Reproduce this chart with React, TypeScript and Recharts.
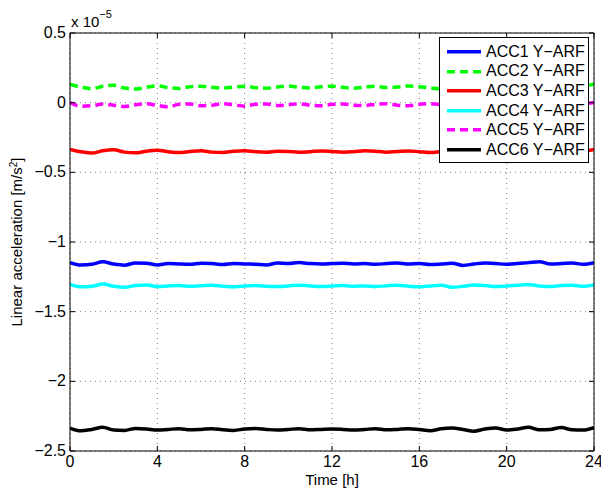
import React from 'react';
import { LineChart, Line, XAxis, YAxis, CartesianGrid, Legend } from 'recharts';

const hours = [
  0, 0.5, 1, 1.5, 2, 2.5, 3, 3.5, 4, 4.5, 5, 5.5, 6, 6.5, 7, 7.5, 8, 8.5, 9, 9.5,
  10, 10.5, 11, 11.5, 12, 12.5, 13, 13.5, 14, 14.5, 15, 15.5, 16, 16.5, 17, 17.5,
  18, 18.5, 19, 19.5, 20, 20.5, 21, 21.5, 22, 22.5, 23, 23.5, 24,
];

// values in units of 1e-5 m/s^2
const acc1 = [
  -1.148, -1.165, -1.16, -1.142, -1.158, -1.166, -1.15,
  -1.152, -1.165, -1.155, -1.158, -1.16, -1.152, -1.155,
  -1.162, -1.155, -1.158, -1.16, -1.165, -1.15, -1.155,
  -1.148, -1.155, -1.158, -1.155, -1.152, -1.158, -1.155,
  -1.16, -1.155, -1.15, -1.158, -1.155, -1.162, -1.158,
  -1.152, -1.168, -1.158, -1.15, -1.155, -1.16, -1.155,
  -1.148, -1.142, -1.158, -1.155, -1.15, -1.16, -1.148,
];
const acc2 = [
  0.13, 0.112, 0.1, 0.118, 0.125, 0.105, 0.098,
  0.11, 0.12, 0.108, 0.102, 0.115, 0.118, 0.11,
  0.105, 0.112, 0.118, 0.108, 0.104, 0.112, 0.12,
  0.11, 0.106, 0.114, 0.118, 0.11, 0.104, 0.112,
  0.118, 0.108, 0.112, 0.12, 0.115, 0.106, 0.1,
  0.11, 0.118, 0.108, 0.102, 0.112, 0.12, 0.11,
  0.104, 0.112, 0.118, 0.108, 0.104, 0.118, 0.132,
];
const acc3 = [
  -0.335, -0.352, -0.362, -0.345, -0.338, -0.355, -0.36,
  -0.348, -0.342, -0.352, -0.358, -0.35, -0.345, -0.355,
  -0.358, -0.348, -0.345, -0.352, -0.355, -0.348, -0.35,
  -0.355, -0.352, -0.346, -0.35, -0.356, -0.352, -0.345,
  -0.348, -0.355, -0.35, -0.346, -0.352, -0.358, -0.35,
  -0.345, -0.352, -0.36, -0.35, -0.344, -0.35, -0.356,
  -0.348, -0.346, -0.355, -0.36, -0.352, -0.348, -0.335,
];
const acc4 = [
  -1.305, -1.322, -1.318, -1.302, -1.318, -1.325, -1.312,
  -1.308, -1.32, -1.315, -1.312, -1.318, -1.314, -1.31,
  -1.318, -1.322, -1.315, -1.312, -1.318, -1.32, -1.315,
  -1.31, -1.315, -1.32, -1.316, -1.312, -1.318, -1.315,
  -1.32, -1.314, -1.31, -1.318, -1.322, -1.315, -1.31,
  -1.325, -1.318, -1.308, -1.312, -1.32, -1.316, -1.31,
  -1.305, -1.315, -1.32, -1.312, -1.31, -1.318, -1.308,
];
const acc5 = [
  0.0, -0.025, -0.022, -0.01, -0.018, -0.028, -0.015,
  -0.008, -0.02, -0.03, -0.012, -0.01, -0.022, -0.018,
  -0.008, -0.015, -0.025, -0.012, -0.01, -0.02, -0.015,
  -0.008, -0.018, -0.022, -0.012, -0.01, -0.018, -0.02,
  -0.012, -0.008, -0.018, -0.022, -0.012, -0.008, -0.015,
  -0.022, -0.01, -0.005, -0.018, -0.02, -0.01, -0.008,
  -0.015, -0.02, -0.012, -0.01, -0.02, -0.012, 0.002,
];
const acc6 = [
  -2.335, -2.355, -2.345, -2.33, -2.35, -2.352, -2.338,
  -2.342, -2.35, -2.345, -2.34, -2.348, -2.345, -2.34,
  -2.348, -2.352, -2.342, -2.338, -2.345, -2.35, -2.345,
  -2.34, -2.348, -2.345, -2.342, -2.345, -2.35, -2.345,
  -2.34, -2.348, -2.345, -2.34, -2.346, -2.355, -2.34,
  -2.335, -2.345, -2.358, -2.342, -2.335, -2.35, -2.342,
  -2.33, -2.348, -2.345, -2.332, -2.348, -2.35, -2.332,
];

const xTicks = [0, 4, 8, 12, 16, 20, 24];
const yTicks = [-2.5, -2, -1.5, -1, -0.5, 0, 0.5];

const series = [
  { key: 'acc1', name: 'ACC1 Y\u2212ARF', color: '#0000ff', dash: undefined, values: acc1 },
  { key: 'acc2', name: 'ACC2 Y\u2212ARF', color: '#00ff00', dash: '8 5', values: acc2 },
  { key: 'acc3', name: 'ACC3 Y\u2212ARF', color: '#ff0000', dash: undefined, values: acc3 },
  { key: 'acc4', name: 'ACC4 Y\u2212ARF', color: '#00ffff', dash: undefined, values: acc4 },
  { key: 'acc5', name: 'ACC5 Y\u2212ARF', color: '#ff00ff', dash: '8 5', values: acc5 },
  { key: 'acc6', name: 'ACC6 Y\u2212ARF', color: '#000000', dash: undefined, values: acc6 },
];

const data = hours.map((t, i) => {
  const row: any = { t };
  series.forEach((s) => (row[s.key] = s.values[i]));
  return row;
});

const FONT = '"Liberation Sans", Arial, Helvetica, sans-serif';
const FS = 16;
const TICK = 5;

const fmt = (v: number) => String(v).replace('-', '\u2212');

const BottomTick = (props: any) => {
  const { x, y, payload } = props;
  return (
    <g>
      <line x1={x} x2={x} y1={y} y2={y - TICK} stroke="#000" />
      <text x={x} y={y + 16} textAnchor="middle" fontSize={FS} fontFamily={FONT} fill="#000">
        {payload.value}
      </text>
    </g>
  );
};

const TopTick = (props: any) => {
  const { x, y } = props;
  return <line x1={x} x2={x} y1={y} y2={y + TICK} stroke="#000" />;
};

const LeftTick = (props: any) => {
  const { x, y, payload } = props;
  return (
    <g>
      <line x1={x} x2={x + TICK} y1={y} y2={y} stroke="#000" />
      <text x={x - 4} y={y + 5} textAnchor="end" fontSize={FS} fontFamily={FONT} fill="#000">
        {fmt(payload.value)}
      </text>
    </g>
  );
};

const RightTick = (props: any) => {
  const { x, y } = props;
  return <line x1={x} x2={x - TICK} y1={y} y2={y} stroke="#000" />;
};

const YTitle = (props: any) => {
  const vb = props.viewBox;
  const cx = 22;
  const cy = vb.y + vb.height / 2;
  return (
    <text
      x={cx}
      y={cy}
      transform={`rotate(-90 ${cx} ${cy})`}
      textAnchor="middle"
      fontSize={15}
      fontFamily={FONT}
      fill="#000"
    >
      Linear acceleration [m/s
      <tspan baselineShift="super" fontSize={10}>2</tspan>
      ]
    </text>
  );
};

const XTitle = (props: any) => {
  const vb = props.viewBox;
  return (
    <text
      x={vb.x + vb.width / 2}
      y={vb.y + 34}
      textAnchor="middle"
      fontSize={15}
      fontFamily={FONT}
      fill="#000"
    >
      Time [h]
    </text>
  );
};

const ScaleNote = () => (
  <text x={71} y={27} fontSize={15} fontFamily={FONT} fill="#000">
    x 10
    <tspan fontSize={11} dy={-9}>{'\u22125'}</tspan>
  </text>
);

const LegendBox = (props: any) => {
  const items = props.payload || [];
  return (
    <div
      style={{
        border: '1px solid #000',
        background: '#fff',
        boxSizing: 'border-box',
        width: 150,
        height: 126,
        paddingTop: 4,
        fontFamily: FONT,
        fontSize: FS,
      }}
    >
      {items.map((it: any) => {
        const s = series.find((q) => q.key === it.dataKey);
        return (
          <div key={it.value} style={{ height: 19.6, display: 'flex', alignItems: 'center' }}>
            <svg width={46} height={19.6} style={{ flex: 'none' }}>
              <line
                x1={7}
                x2={41}
                y1={9.8}
                y2={9.8}
                stroke={it.color}
                strokeWidth={3.5}
                strokeDasharray={s?.dash}
              />
            </svg>
            <span style={{ whiteSpace: 'nowrap' }}>{it.value}</span>
          </div>
        );
      })}
    </div>
  );
};

export default function App() {
  return (
    <div style={{ position: 'absolute', left: 0, top: 0, background: '#fff' }}>
      <LineChart width={601} height={494} data={data} margin={{ top: 32, right: 6, bottom: 0, left: 0 }}>
        <CartesianGrid stroke="#808080" strokeDasharray="1 4" />
        <XAxis
          dataKey="t"
          type="number"
          domain={[0, 24]}
          ticks={xTicks}
          height={43}
          tickSize={0}
          tickMargin={0}
          tick={<BottomTick />}
          axisLine={{ stroke: '#000' }}
          interval={0}
          allowDataOverflow
          label={<XTitle />}
        />
        <XAxis
          xAxisId="top"
          orientation="top"
          dataKey="t"
          type="number"
          domain={[0, 24]}
          ticks={xTicks}
          height={1}
          tickSize={0}
          tickMargin={0}
          tick={<TopTick />}
          axisLine={{ stroke: '#000' }}
          interval={0}
          allowDataOverflow
          label={<ScaleNote />}
        />
        <YAxis
          type="number"
          domain={[-2.5, 0.5]}
          ticks={yTicks}
          width={70}
          tickSize={0}
          tickMargin={0}
          tick={<LeftTick />}
          axisLine={{ stroke: '#000' }}
          interval={0}
          allowDataOverflow
          label={<YTitle />}
        />
        <YAxis
          yAxisId="right"
          orientation="right"
          type="number"
          domain={[-2.5, 0.5]}
          ticks={yTicks}
          width={1}
          tickSize={0}
          tickMargin={0}
          tick={<RightTick />}
          axisLine={{ stroke: '#000' }}
          interval={0}
          allowDataOverflow
        />
        <Legend
          layout="vertical"
          align="center"
          verticalAlign="middle"
          content={<LegendBox />}
          wrapperStyle={{ left: 439, top: 37, width: 150, height: 126 }}
        />
        {series.map((s) => (
          <Line
            key={s.key}
            dataKey={s.key}
            name={s.name}
            type="monotone"
            stroke={s.color}
            strokeWidth={3.5}
            strokeDasharray={s.dash}
            dot={false}
            activeDot={false}
            isAnimationActive={false}
          />
        ))}
      </LineChart>
    </div>
  );
}
